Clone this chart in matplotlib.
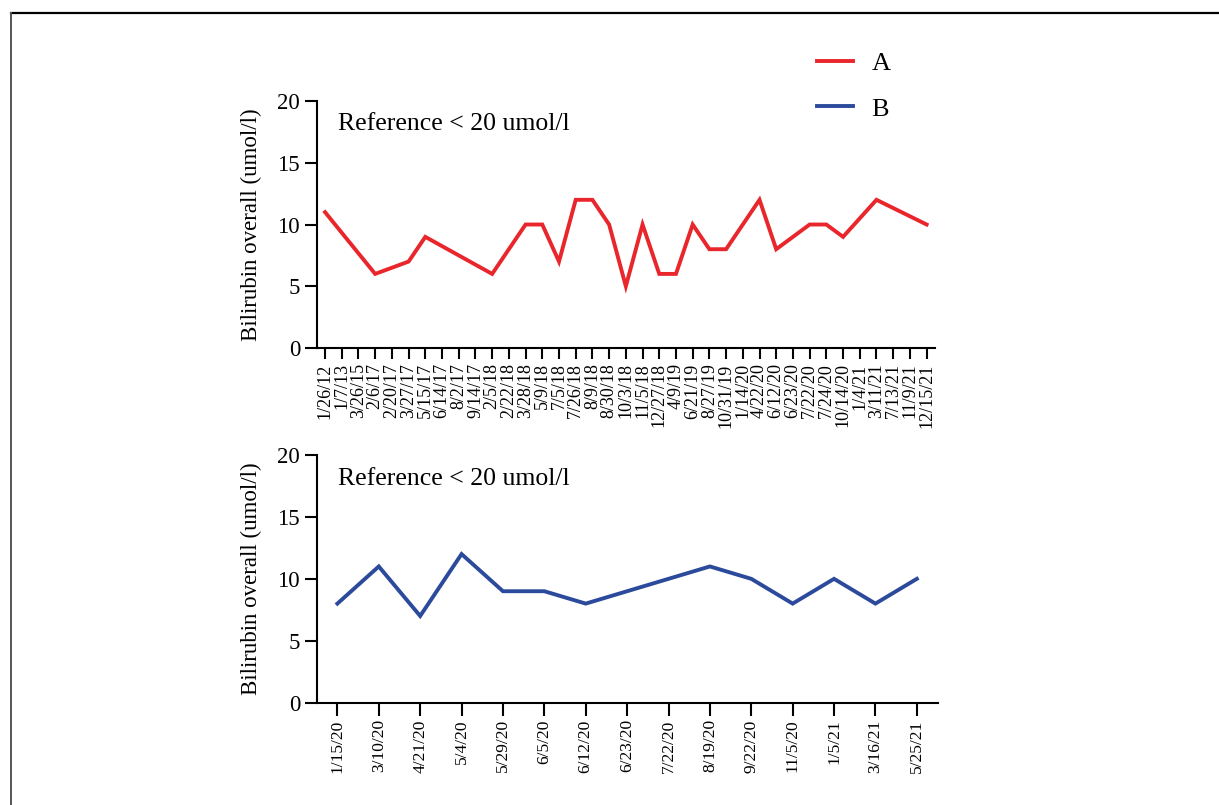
import matplotlib
matplotlib.use("Agg")
import matplotlib.pyplot as plt
from matplotlib.lines import Line2D

plt.rcParams['font.family'] = ['Liberation Serif', 'DejaVu Serif']

# Patient A: visit dates and bilirubin (None = not measured)
dates_a = ['1/26/12', '1/7/13', '3/26/15', '2/6/17', '2/20/17', '3/27/17', '5/15/17',
           '6/14/17', '8/2/17', '9/14/17', '2/5/18', '2/22/18', '3/28/18', '5/9/18',
           '7/5/18', '7/26/18', '8/9/18', '8/30/18', '10/3/18', '11/5/18', '12/27/18',
           '4/9/19', '6/21/19', '8/27/19', '10/31/19', '1/14/20', '4/22/20', '6/12/20',
           '6/23/20', '7/22/20', '7/24/20', '10/14/20', '1/4/21', '3/11/21', '7/13/21',
           '11/9/21', '12/15/21']
values_a = [11, None, None, 6, None, 7, 9,
            None, None, None, 6, None, 10, 10,
            7, 12, 12, 10, 5, 10, 6,
            6, 10, 8, 8, None, 12, 8,
            None, 10, 10, 9, None, 12, None,
            None, 10]

# Patient B
dates_b = ['1/15/20', '3/10/20', '4/21/20', '5/4/20', '5/29/20', '6/5/20', '6/12/20',
           '6/23/20', '7/22/20', '8/19/20', '9/22/20', '11/5/20', '1/5/21', '3/16/21',
           '5/25/21']
values_b = [8, 11, 7, 12, 9, 9, 8, 9, 10, 11, 10, 8, 10, 8, 10]

red = '#e8262b'
blue = '#2c4a9c'

fig = plt.figure(figsize=(12.19, 8.05), dpi=100)
ax1 = fig.add_axes([0.2598, 0.5677, 0.5072, 0.3068])
ax2 = fig.add_axes([0.2598, 0.1271, 0.5093, 0.3077])

xa = [i for i, v in enumerate(values_a) if v is not None]
ya = [v for v in values_a if v is not None]
line_a, = ax1.plot(xa, ya, color=red, lw=2.8, solid_joinstyle='miter')
line_b, = ax2.plot(range(len(values_b)), values_b, color=blue, lw=2.8,
                   solid_joinstyle='miter')

ax1.set_xticks(range(len(dates_a)))
ax1.set_xticklabels(dates_a, rotation=90, fontsize=13)
ax1.set_xlim(-0.5, len(dates_a) - 0.5)
ax2.set_xticks(range(len(dates_b)))
ax2.set_xticklabels(dates_b, rotation=90, fontsize=12.5)
ax2.set_xlim(-0.5, len(dates_b) - 0.5)

for ax in (ax1, ax2):
    ax.set_ylim(0, 20)
    ax.set_yticks([0, 5, 10, 15, 20])
    ax.tick_params(axis='y', labelsize=16.5, length=9, width=1.5, pad=3)
    ax.tick_params(axis='x', length=8, width=1.5, pad=3)
    for pos in ['right', 'top']:
        ax.spines[pos].set_visible(False)
    for pos in ['left', 'bottom']:
        ax.spines[pos].set_linewidth(1.5)
    ax.set_ylabel('Bilirubin overall (umol/l)', fontsize=16.5)
    ax.yaxis.set_label_coords(-0.088, 0.5)
    ax.text(0.035, 0.905, 'Reference < 20 umol/l', transform=ax.transAxes,
            fontsize=18.5, va='center', ha='left')

ax2.tick_params(axis='x', length=9)

fig.legend([line_a, line_b], ['A', 'B'], loc='upper left',
           bbox_to_anchor=(0.651, 0.965), frameon=False, fontsize=19,
           handlelength=1.35, handletextpad=0.7, labelspacing=0.82)

# thin frame along the top and left edge
fig.add_artist(Line2D([11 / 1219, 1], [1 - 13 / 805, 1 - 13 / 805],
                      transform=fig.transFigure, color='black', lw=1.6))
fig.add_artist(Line2D([11 / 1219, 11 / 1219], [0, 1 - 13 / 805],
                      transform=fig.transFigure, color='#555555', lw=1.4))

fig.savefig('out.png', dpi=100)
